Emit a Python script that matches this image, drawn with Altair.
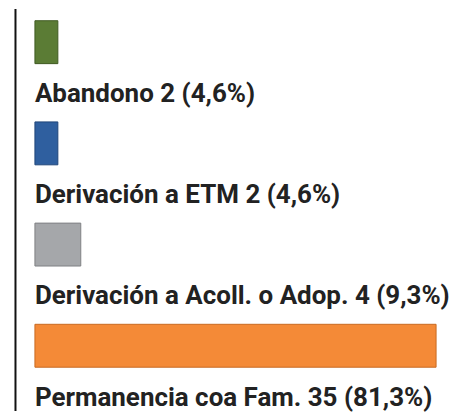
import altair as alt
import pandas as pd

categories = ["Abandono", "Derivación a ETM", "Derivación a Acoll. o Adop.", "Permanencia coa Fam."]
values = [2, 2, 4, 35]
percents = ["4,6%", "4,6%", "9,3%", "81,3%"]
colors = ["#5b7c35", "#2f5f9f", "#a5a7aa", "#f48a37"]
edge_colors = ["#3f5a22", "#1f4579", "#7f8184", "#c86a22"]

df = pd.DataFrame({
    "cat": categories,
    "value": values,
    "idx": list(range(len(categories))),
    "label": [f"{c} {v} ({p})" for c, v, p in zip(categories, values, percents)],
})

x = alt.X("value:Q", scale=alt.Scale(domain=[-1.74, 37.0], nice=False, zero=False), axis=None)
y_scale = alt.Scale(domain=[-0.284, 3.591], nice=False, zero=False, reverse=True)

bars = alt.Chart(df).mark_bar(orient="horizontal", size=43, strokeWidth=1).encode(
    x=x,
    x2=alt.datum(0),
    y=alt.Y("idx:Q", scale=y_scale,
            axis=alt.Axis(domain=True, domainColor="#111111", domainWidth=2,
                          labels=False, ticks=False, grid=False, title=None)),
    color=alt.Color("cat:N", scale=alt.Scale(domain=categories, range=colors), legend=None),
    stroke=alt.Stroke("cat:N", scale=alt.Scale(domain=categories, range=edge_colors), legend=None),
)

texts = alt.Chart(df).mark_text(
    align="left", baseline="alphabetic", dy=60,
    font="Roboto", fontWeight="bold", fontSize=26, color="#222222",
).encode(
    x=alt.datum(0),
    y=alt.Y("idx:Q", scale=y_scale),
    text="label:N",
)

chart = alt.layer(bars, texts).properties(
    width=445, height=403,
    padding={"left": 7, "top": 0, "right": 0, "bottom": 0},
).configure_view(stroke=None)

chart.save("out.html", embed_options={"renderer": "svg", "actions": False})
